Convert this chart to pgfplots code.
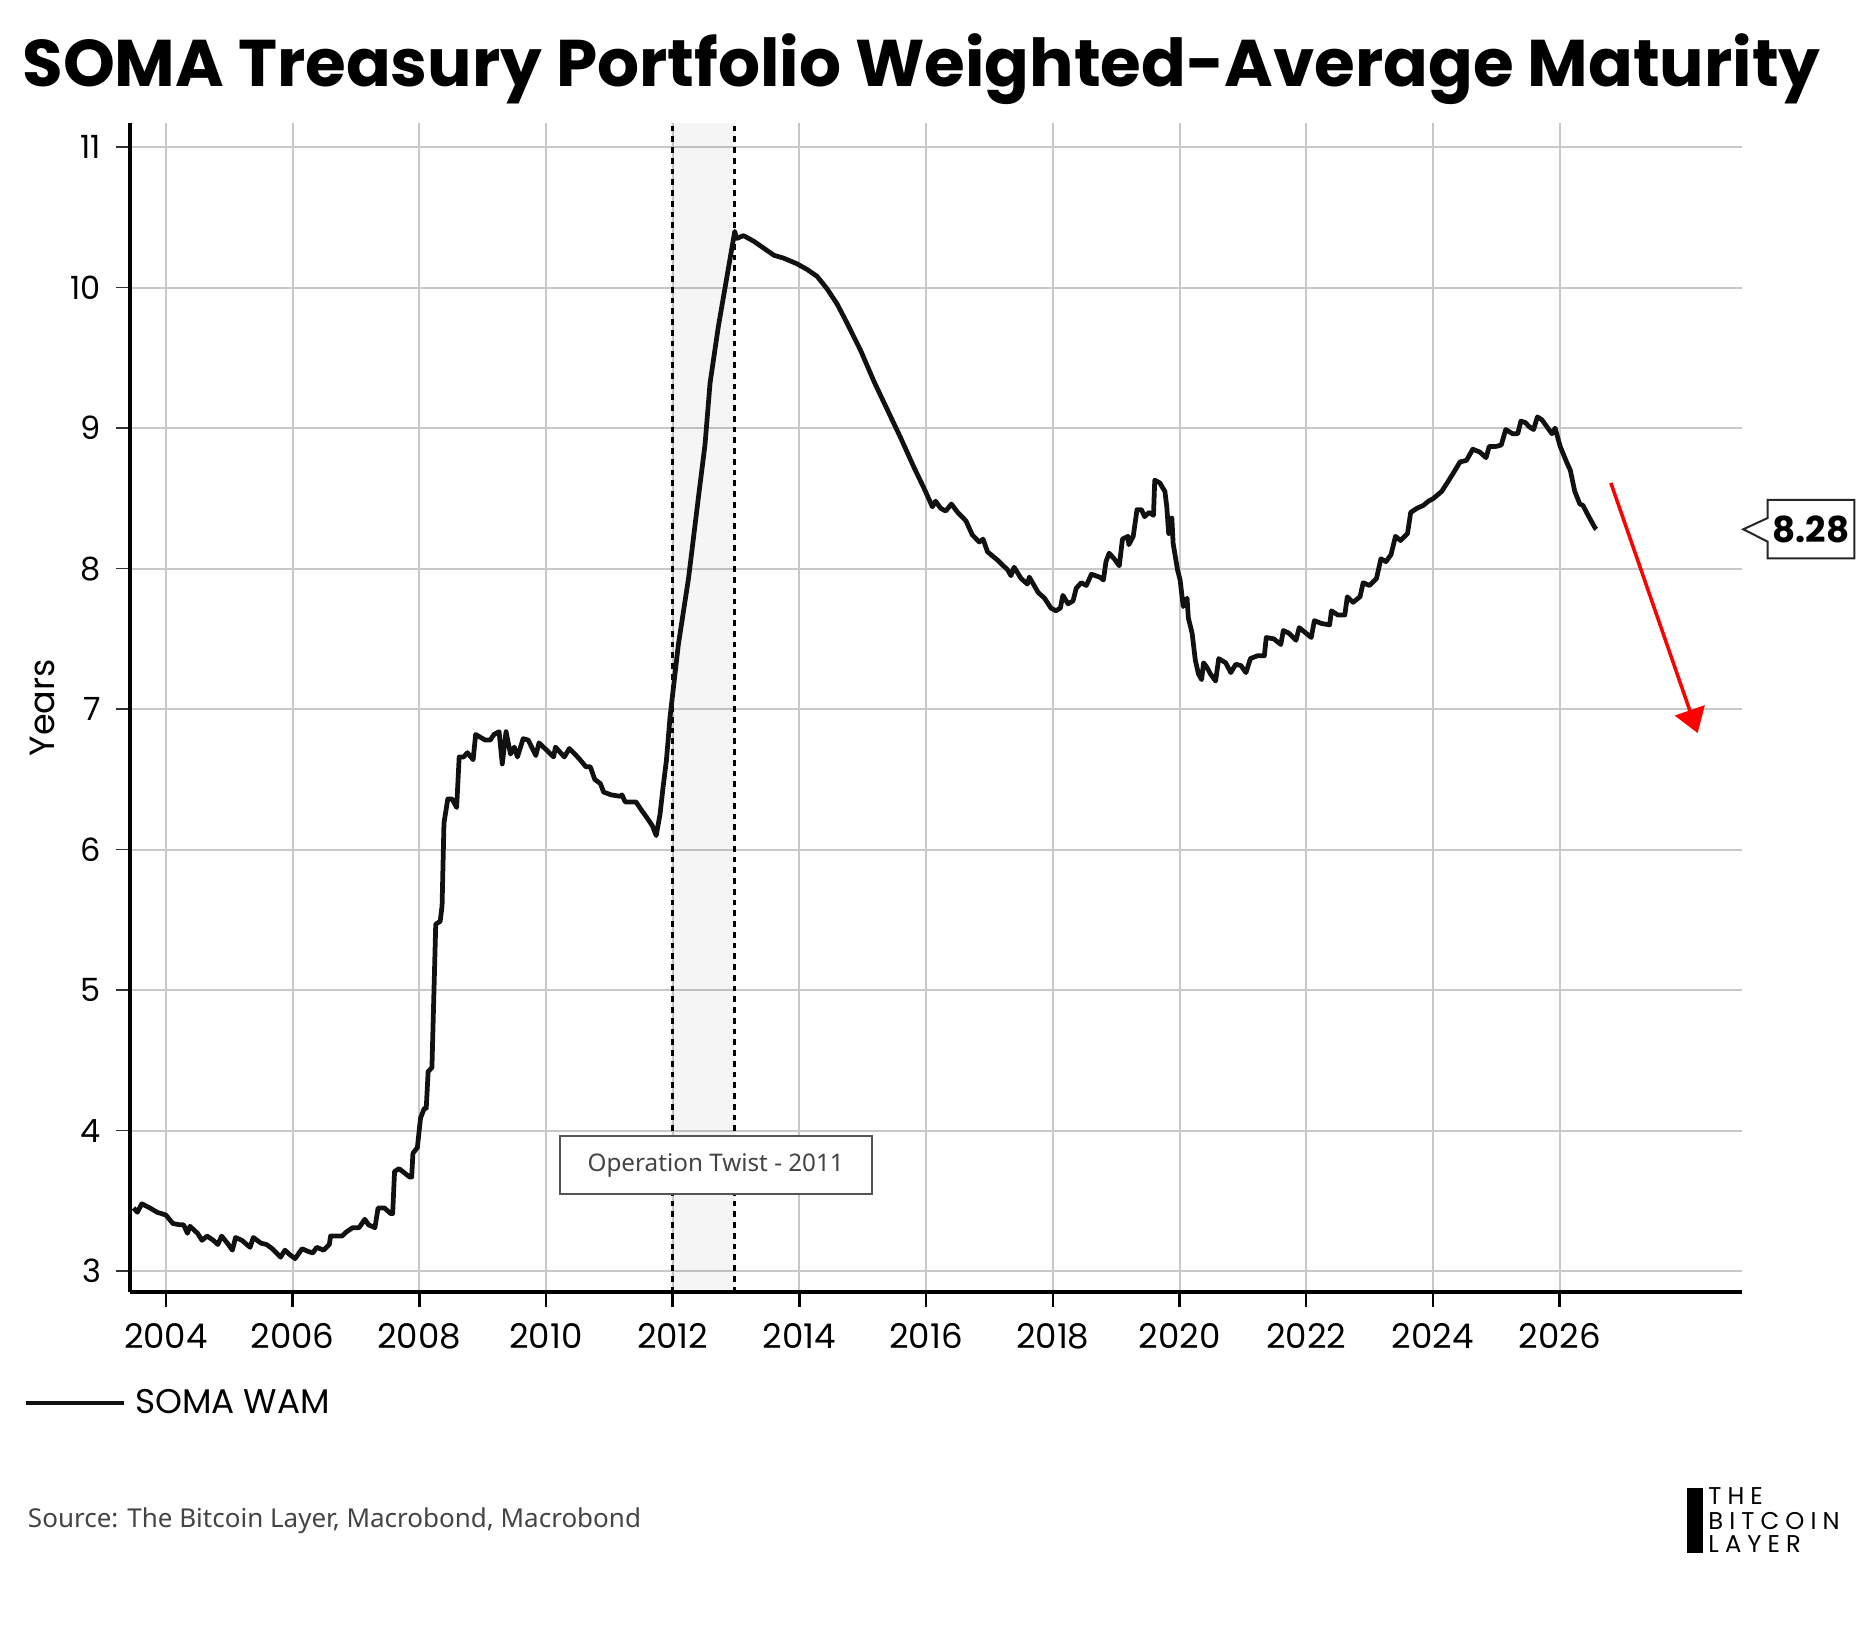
\documentclass[border=0pt]{standalone}
\usepackage{fontspec}
\usepackage{pgfplots}
\pgfplotsset{compat=1.18}
\usetikzlibrary{arrows.meta}
\setmainfont{Poppins}
\newfontfamily\notofont{Noto Sans}
\newfontfamily\logofont{Poppins}[LetterSpace=25]
\definecolor{gridc}{HTML}{C8C8C8}
\definecolor{txtgray}{HTML}{444444}
\definecolor{boxgray}{HTML}{555555}
\definecolor{linec}{HTML}{111111}
\begin{document}
\begin{tikzpicture}
\useasboundingbox (0,0) rectangle (750pt,-650pt);
\begin{axis}[
 at={(52.16pt,-516.92pt)}, anchor=south west,
 scale only axis, width=644.64pt, height=467.64pt,
 xmin=2003.44, xmax=2028.88, ymin=2.85, ymax=11.17,
 xtick={2004,2006,...,2026}, ytick={3,4,...,11},
 /pgf/number format/1000 sep={}, /pgf/number format/assume math mode=true,
 axis x line*=bottom, axis y line*=left,
 axis line style={line width=1.6pt, -},
 tick align=outside,
 xmajorgrids, ymajorgrids,
 grid style={gridc, line width=0.8pt},
 x tick style={black, line width=1pt},
 y tick style={black!80, line width=0.6pt},
 major tick length=5.8pt,
 xticklabel style={font=\fontsize{13.6}{14}\selectfont, inner sep=0pt, anchor=north, yshift=-6.3pt},
 yticklabel style={font=\fontsize{12.8}{14}\selectfont, inner sep=0pt, anchor=east, xshift=-5.8pt},
 ylabel={Years},
 ylabel style={font=\fontsize{14}{16}\selectfont, at={(axis description cs:-0.0545,0.5)}, anchor=center},
 clip=false,
 legend style={at={(axis description cs:-0.0666,-0.0947)}, anchor=west, draw=none, fill=none, inner sep=0pt, font=\fontsize{13.7}{15}\selectfont},
 legend cell align=left,
 legend image code/.code={\draw[line width=1.6pt, linec] (0pt,0pt) -- (39.5pt,0pt);},
]
\fill[black, fill opacity=0.04] (axis cs:2012,2.85) rectangle (axis cs:2012.98,11.17);
\draw[black, line width=1.1pt, dash pattern=on 2.3pt off 2pt] (axis cs:2012,2.85) -- (axis cs:2012,11.17);
\draw[black, line width=1.1pt, dash pattern=on 2.3pt off 2pt] (axis cs:2012.98,2.85) -- (axis cs:2012.98,11.17);
\draw[boxgray, line width=0.8pt, fill=white] (axis cs:2010.22,3.548) rectangle (axis cs:2015.14,3.963);
\node[font=\notofont\fontsize{9.7}{11}\selectfont, text=txtgray] at (axis cs:2012.68,3.755) {Operation Twist - 2011};
\addplot[linec, line width=1.9pt, line join=round] table {
2003.49 3.45
2003.55 3.42
2003.62 3.48
2003.75 3.45
2003.86 3.42
2004.00 3.40
2004.11 3.34
2004.22 3.33
2004.28 3.33
2004.34 3.27
2004.38 3.32
2004.50 3.27
2004.57 3.22
2004.65 3.25
2004.75 3.22
2004.82 3.19
2004.88 3.25
2004.97 3.20
2005.05 3.15
2005.10 3.24
2005.20 3.22
2005.33 3.17
2005.38 3.24
2005.50 3.20
2005.59 3.19
2005.68 3.16
2005.81 3.10
2005.88 3.15
2005.95 3.12
2006.04 3.09
2006.15 3.16
2006.25 3.14
2006.32 3.13
2006.38 3.17
2006.49 3.15
2006.58 3.19
2006.60 3.25
2006.70 3.25
2006.78 3.25
2006.85 3.28
2006.95 3.31
2007.05 3.31
2007.14 3.37
2007.20 3.33
2007.30 3.31
2007.35 3.45
2007.45 3.45
2007.55 3.41
2007.58 3.41
2007.61 3.71
2007.68 3.73
2007.85 3.67
2007.88 3.67
2007.90 3.84
2007.97 3.88
2008.02 4.09
2008.08 4.16
2008.11 4.16
2008.14 4.42
2008.20 4.45
2008.26 5.47
2008.33 5.49
2008.36 5.60
2008.39 6.19
2008.45 6.36
2008.52 6.36
2008.59 6.30
2008.63 6.66
2008.70 6.66
2008.76 6.69
2008.85 6.64
2008.89 6.82
2009.04 6.78
2009.12 6.78
2009.18 6.82
2009.26 6.84
2009.31 6.61
2009.37 6.84
2009.44 6.68
2009.50 6.73
2009.55 6.66
2009.64 6.79
2009.72 6.78
2009.84 6.67
2009.89 6.76
2010.03 6.70
2010.12 6.66
2010.15 6.73
2010.29 6.66
2010.37 6.72
2010.52 6.65
2010.63 6.59
2010.70 6.59
2010.77 6.50
2010.86 6.47
2010.91 6.41
2011.03 6.39
2011.17 6.38
2011.20 6.39
2011.25 6.34
2011.42 6.34
2011.51 6.28
2011.59 6.23
2011.68 6.17
2011.74 6.10
2011.80 6.25
2011.85 6.45
2011.90 6.63
2011.96 6.95
2012.09 7.46
2012.25 7.93
2012.41 8.52
2012.51 8.88
2012.59 9.32
2012.72 9.72
2012.85 10.06
2012.98 10.40
2013.01 10.35
2013.12 10.37
2013.28 10.33
2013.44 10.28
2013.60 10.23
2013.75 10.21
2013.96 10.17
2014.12 10.13
2014.28 10.08
2014.44 9.99
2014.60 9.88
2014.75 9.75
2014.97 9.55
2015.18 9.33
2015.39 9.13
2015.60 8.93
2015.81 8.72
2015.97 8.57
2016.10 8.44
2016.15 8.48
2016.23 8.43
2016.31 8.41
2016.40 8.46
2016.50 8.40
2016.63 8.34
2016.73 8.24
2016.84 8.19
2016.90 8.21
2016.97 8.12
2017.13 8.06
2017.29 7.99
2017.34 7.95
2017.39 8.01
2017.50 7.93
2017.60 7.89
2017.63 7.94
2017.77 7.83
2017.87 7.79
2017.97 7.72
2018.05 7.70
2018.12 7.72
2018.16 7.81
2018.24 7.75
2018.32 7.77
2018.37 7.86
2018.45 7.90
2018.53 7.88
2018.61 7.96
2018.74 7.94
2018.80 7.92
2018.84 8.05
2018.89 8.11
2018.97 8.07
2019.05 8.02
2019.10 8.21
2019.19 8.23
2019.20 8.17
2019.27 8.23
2019.33 8.42
2019.40 8.42
2019.45 8.37
2019.52 8.40
2019.59 8.38
2019.61 8.63
2019.69 8.61
2019.77 8.55
2019.80 8.44
2019.83 8.25
2019.88 8.36
2019.90 8.18
2019.97 7.99
2020.01 7.92
2020.06 7.73
2020.12 7.79
2020.14 7.65
2020.20 7.54
2020.25 7.35
2020.30 7.25
2020.35 7.21
2020.38 7.33
2020.43 7.30
2020.49 7.25
2020.57 7.20
2020.62 7.36
2020.73 7.33
2020.81 7.26
2020.89 7.32
2020.97 7.31
2021.05 7.26
2021.12 7.36
2021.23 7.38
2021.34 7.38
2021.37 7.51
2021.49 7.50
2021.60 7.46
2021.64 7.56
2021.73 7.54
2021.84 7.49
2021.89 7.58
2022.00 7.54
2022.08 7.51
2022.13 7.63
2022.24 7.61
2022.37 7.60
2022.40 7.70
2022.50 7.67
2022.61 7.67
2022.65 7.80
2022.74 7.76
2022.85 7.80
2022.90 7.90
2023.00 7.88
2023.11 7.93
2023.18 8.07
2023.26 8.05
2023.34 8.10
2023.41 8.23
2023.49 8.20
2023.60 8.25
2023.65 8.40
2023.75 8.43
2023.85 8.45
2023.93 8.48
2024.01 8.50
2024.14 8.55
2024.24 8.62
2024.35 8.70
2024.43 8.76
2024.53 8.77
2024.63 8.85
2024.74 8.83
2024.84 8.79
2024.89 8.87
2025.00 8.87
2025.08 8.88
2025.15 8.99
2025.26 8.96
2025.34 8.96
2025.39 9.05
2025.46 9.04
2025.52 9.01
2025.59 8.99
2025.65 9.08
2025.72 9.06
2025.80 9.01
2025.88 8.96
2025.93 9.00
2026.01 8.87
2026.11 8.76
2026.17 8.70
2026.24 8.55
2026.32 8.46
2026.37 8.45
2026.45 8.38
2026.56 8.29
2026.58 8.28
};
\addlegendentry{\hspace{1.5pt}SOMA WAM}
\draw[red, line width=1.4pt, -{Triangle[width=12.4pt,length=9.6pt]}] (axis cs:2026.81,8.61) -- (axis cs:2028.18,6.83);
\end{axis}
\begin{scope}[x=0.4pt, y=-0.4pt]
\node[anchor=base west, inner sep=0pt, font=\bfseries\fontsize{26.4}{30}\selectfont] at (22,86.7) {SOMA Treasury Portfolio Weighted-Average Maturity};
\node[anchor=base west, inner sep=0pt, text=txtgray, font=\notofont\fontsize{10.4}{12}\selectfont] at (27.5,1527.5) {Source: The Bitcoin Layer, Macrobond, Macrobond};
\draw[black!85, line width=0.8pt, fill=white] (1743.3,529.3) -- (1767.7,518) -- (1767.7,500) -- (1854.3,500) -- (1854.3,558.3) -- (1767.7,558.3) -- (1767.7,541.7) -- cycle;
\node[font=\bfseries\fontsize{14.3}{16}\selectfont, inner sep=0pt] at (1811,529.3) {8.28};
\fill[black] (1686.7,1488) rectangle (1703.3,1552.7);
\node[anchor=base west, inner sep=0pt, font=\logofont\fontsize{9.7}{10}\selectfont] at (1708,1505) {THE};
\node[anchor=base west, inner sep=0pt, font=\logofont\fontsize{9.7}{10}\selectfont] at (1708,1530) {BITCOIN};
\node[anchor=base west, inner sep=0pt, font=\logofont\fontsize{9.7}{10}\selectfont] at (1708,1553) {LAYER};
\end{scope}
\end{tikzpicture}
\end{document}
